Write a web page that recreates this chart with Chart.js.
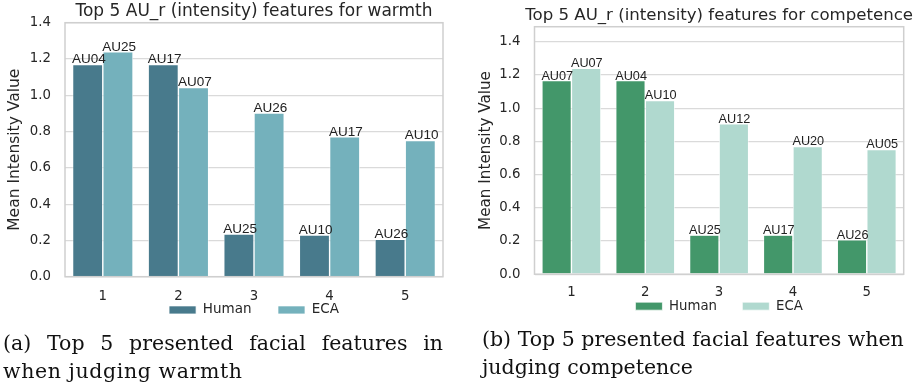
<!DOCTYPE html>
<html><head><meta charset="utf-8">
<script src="https://cdn.jsdelivr.net/npm/chart.js@4/dist/chart.umd.min.js"></script>
<style>
html,body{margin:0;padding:0;background:#fff;width:917px;height:387px;overflow:hidden;}
canvas{position:absolute;top:0;}
#cA{left:0;} #cB{left:460px;}
.cap{position:absolute;font-family:'DejaVu Serif',serif;font-size:20.5px;line-height:28px;color:#111;white-space:nowrap;}
.just{text-align:justify;text-align-last:justify;white-space:normal;}
</style></head><body>
<canvas id="cA" width="460" height="330"></canvas>
<canvas id="cB" width="457" height="330"></canvas>
<div class="cap just" style="left:3px;top:329px;width:440px;">(a) Top 5 presented facial features in</div>
<div class="cap" style="left:3px;top:357px;letter-spacing:0.6px;">when judging warmth</div>
<div class="cap" style="left:482px;top:324.5px;">(b) Top 5 presented facial features when</div>
<div class="cap" style="left:482px;top:352.5px;">judging competence</div>
<script>
const categories = ['1', '2', '3', '4', '5'];
const seriesNames = ['Human', 'ECA'];
const warmthHuman = [1.17, 1.17, 0.235, 0.23, 0.206];
const warmthECA = [1.24, 1.043, 0.902, 0.771, 0.751];
const warmthHumanAU = ['AU04', 'AU17', 'AU25', 'AU10', 'AU26'];
const warmthECAAU = ['AU25', 'AU07', 'AU26', 'AU17', 'AU10'];
const competenceHuman = [1.166, 1.166, 0.235, 0.235, 0.207];
const competenceECA = [1.239, 1.046, 0.905, 0.769, 0.751];
const competenceHumanAU = ['AU07', 'AU04', 'AU25', 'AU17', 'AU26'];
const competenceECAAU = ['AU07', 'AU10', 'AU12', 'AU20', 'AU05'];
const yAxisTitle = 'Mean Intensity Value';
const warmthTitle = 'Top 5 AU_r (intensity) features for warmth';
const competenceTitle = 'Top 5 AU_r (intensity) features for competence';

Chart.defaults.font.family = "'DejaVu Sans', sans-serif";
const TXT = '#262626';

const frameAndLabels = {
  id: 'frameAndLabels',
  afterLayout(chart) {
    // let the x tick labels draw below a zero-height axis box
    const x = chart.scales.x;
    x.bottom = x.top + 32;
    // give the title room to overhang the plot area (as in the reference)
    const t = chart.titleBlock;
    if (t) { t.left -= 30; t.right += 30; t.width = t.right - t.left; }
  },
  afterDatasetsDraw(chart, args, opts) {
    const ctx = chart.ctx, a = chart.chartArea;
    ctx.save();
    ctx.strokeStyle = '#cfcfcf';
    ctx.lineWidth = 1.5;
    ctx.strokeRect(a.left, a.top, a.right - a.left, a.bottom - a.top);
    ctx.font = opts.font;
    ctx.fillStyle = '#222222';
    ctx.textAlign = 'left';
    ctx.textBaseline = 'alphabetic';
    chart.data.datasets.forEach((ds, i) => {
      chart.getDatasetMeta(i).data.forEach((bar, j) => {
        const p = bar.getProps(['x', 'y', 'width'], true);
        ctx.fillText(ds.auLabels[j], p.x - p.width / 2 - 0.5, p.y - 1);
      });
    });
    ctx.restore();
  }
};

function makeChart(id, s) {
  return new Chart(document.getElementById(id), {
    type: 'bar',
    data: {
      labels: categories,
      datasets: [
        { label: seriesNames[0], data: s.human, auLabels: s.humanAU, backgroundColor: s.c1, borderColor: '#ffffff', borderWidth: 0.7 },
        { label: seriesNames[1], data: s.eca, auLabels: s.ecaAU, backgroundColor: s.c2, borderColor: '#ffffff', borderWidth: 0.7 }
      ]
    },
    options: {
      responsive: false,
      animation: false,
      devicePixelRatio: 1,
      events: [],
      layout: { padding: { left: 0, right: s.padRight, top: 0, bottom: s.padBottom } },
      datasets: { bar: { categoryPercentage: 0.8, barPercentage: 1.0 } },
      plugins: {
        tooltip: { enabled: false },
        title: { display: true, text: s.title, fullSize: false, color: TXT,
                 font: { size: s.titleSize, weight: 'normal' }, padding: { top: s.titlePadTop, bottom: s.titlePadBottom } },
        legend: { position: 'bottom', fullSize: false,
                  labels: { boxWidth: 27, boxHeight: 8, padding: s.legendPad, color: TXT, font: { size: s.legendSize } } },
        frameAndLabels: { font: s.labelSize + "px 'Liberation Sans', Arial, sans-serif" }
      },
      scales: {
        x: {
          grid: { display: false, drawTicks: false },
          border: { display: false },
          ticks: { color: TXT, font: { size: s.tickSize }, padding: s.xTickPad, autoSkip: false, maxRotation: 0 },
          afterFit: sc => { sc.height = 0; }
        },
        y: {
          min: 0, max: s.yMax,
          grid: { color: '#dadada', lineWidth: 1.2, drawTicks: false },
          border: { display: false },
          ticks: { stepSize: 0.2, includeBounds: false, color: TXT, font: { size: s.tickSize }, padding: 14,
                   callback: v => Number(v).toFixed(1) },
          title: { display: true, text: yAxisTitle, color: TXT, font: { size: s.yTitleSize }, padding: { top: s.yTitlePad, bottom: 0 } },
          afterFit: sc => { sc.width = s.yWidth; }
        }
      }
    },
    plugins: [frameAndLabels]
  });
}

makeChart('cA', {
  human: warmthHuman, eca: warmthECA, humanAU: warmthHumanAU, ecaAU: warmthECAAU,
  c1: '#487a8c', c2: '#74b1bc', title: warmthTitle, yMax: 1.4,
  padRight: 17, padBottom: 3.3, titleSize: 17, titlePadTop: 1.3, titlePadBottom: 1.0,
  legendPad: 26.5, legendSize: 13.5, labelSize: 13.5, tickSize: 13.3, xTickPad: 11.5,
  yTitleSize: 15.5, yTitlePad: 5.9, yWidth: 65
});

makeChart('cB', {
  human: competenceHuman, eca: competenceECA, humanAU: competenceHumanAU, ecaAU: competenceECAAU,
  c1: '#43976a', c2: '#b0d9cf', title: competenceTitle, yMax: 1.49,
  padRight: 13.3, padBottom: 7.2, titleSize: 16.6, titlePadTop: 5.85, titlePadBottom: 0.95,
  legendPad: 25.3, legendSize: 13.3, labelSize: 12.7, tickSize: 13.3, xTickPad: 9.9,
  yTitleSize: 15.2, yTitlePad: 16.6, yWidth: 74.5
});
</script>
</body></html>
